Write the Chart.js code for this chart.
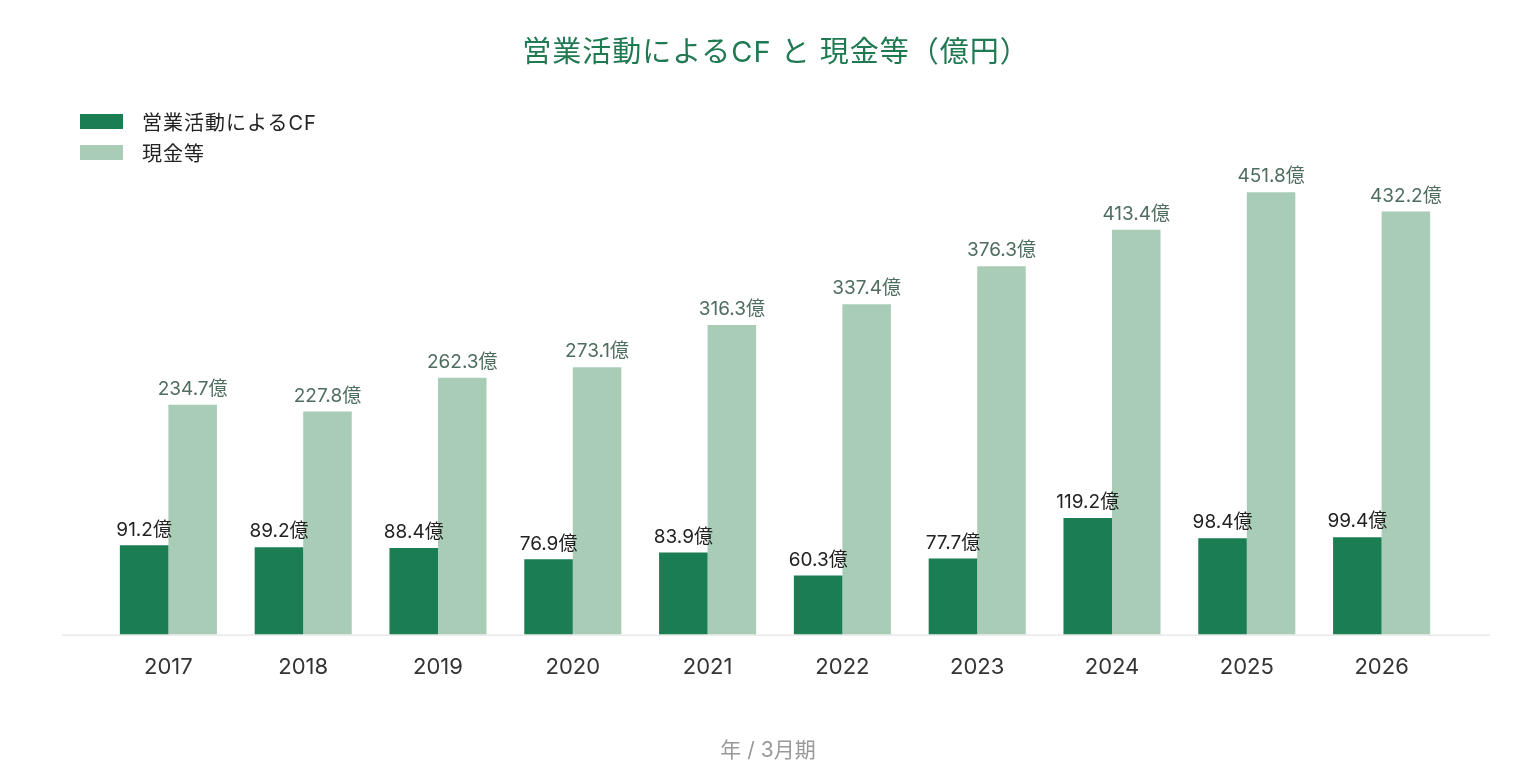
<!DOCTYPE html>
<html>
<head>
<meta charset="utf-8">
<script src="https://cdn.jsdelivr.net/npm/chart.js@4"></script>
<style>
  html, body { margin: 0; padding: 0; background: #fff; }
  #wrap { position: relative; width: 1536px; height: 784px; font-family: Inter, "Noto Sans CJK JP", sans-serif; }
  #title { position: absolute; top: 32px; left: 8px; width: 1536px; text-align: center; font-size: 29px; color: #1f7a52; line-height: 40px; letter-spacing: 1px; }
  #xtitle { position: absolute; top: 736px; left: 0; width: 1536px; text-align: center; font-size: 21px; color: #999; line-height: 28px; }
  #legend { position: absolute; left: 80px; top: 106px; font-size: 20px; color: #222; letter-spacing: 1px; }
  .item { display: flex; align-items: center; height: 31px; }
  .box { width: 43px; height: 15px; margin-right: 19px; }
  canvas { position: absolute; left: 0; top: 0; }
</style>
</head>
<body>
<div id="wrap">
  <canvas id="barChart" width="1536" height="784"></canvas>
  <div id="title">営業活動によるCF と 現金等（億円）</div>
  <div id="legend"></div>
  <div id="xtitle">年 / 3月期</div>
</div>
<script>
// data
const years = ["2017", "2018", "2019", "2020", "2021", "2022", "2023", "2024", "2025", "2026"];
const operatingCF = [91.2, 89.2, 88.4, 76.9, 83.9, 60.3, 77.7, 119.2, 98.4, 99.4];
const cashEtc = [234.7, 227.8, 262.3, 273.1, 316.3, 337.4, 376.3, 413.4, 451.8, 432.2];

const darkGreen = "#1b7d52";
const lightGreen = "#a9ccb7";
const fontFamily = 'Inter, "Noto Sans CJK JP"';

// value labels above each bar
const valueLabels = {
    id: "valueLabels",
    afterDatasetsDraw(chart) {
        const ctx = chart.ctx;
        ctx.save();
        ctx.font = "19px " + fontFamily;
        ctx.textAlign = "center";
        ctx.textBaseline = "bottom";
        chart.data.datasets.forEach(function (ds, i) {
            ctx.fillStyle = ds.labelColor;
            chart.getDatasetMeta(i).data.forEach(function (bar, j) {
                ctx.fillText(ds.data[j].toFixed(1) + "億", bar.x, bar.y - 6);
            });
        });
        ctx.restore();
    }
};

// baseline under the bars, wider than the bar area
const baseLine = {
    id: "baseLine",
    beforeDatasetsDraw(chart) {
        const ctx = chart.ctx;
        const y = chart.scales.y.getPixelForValue(0);
        ctx.save();
        ctx.strokeStyle = "#dddddd";
        ctx.lineWidth = 1;
        ctx.beginPath();
        ctx.moveTo(62, y + 0.5);
        ctx.lineTo(1490, y + 0.5);
        ctx.stroke();
        ctx.restore();
    }
};

var ctxBar = document.getElementById("barChart").getContext("2d");
var barChart = new Chart(ctxBar, {
    type: "bar",
    data: {
        labels: years,
        datasets: [
            {
                label: "営業活動によるCF",
                data: operatingCF,
                backgroundColor: darkGreen,
                labelColor: "#222222",
            },
            {
                label: "現金等",
                data: cashEtc,
                backgroundColor: lightGreen,
                labelColor: "#4e6d5e",
            },
        ],
    },
    options: {
        responsive: false,
        animation: false,
        layout: { padding: { left: 101, right: 87, top: 145, bottom: 83 } },
        datasets: { bar: { categoryPercentage: 0.72, barPercentage: 1 } },
        plugins: {
            legend: { display: false },
            title: { display: false },
            tooltip: { enabled: false },
        },
        scales: {
            x: {
                grid: { display: false, drawTicks: false },
                border: { display: false },
                ticks: { color: "#333", font: { size: 22, family: fontFamily }, padding: 20 },
            },
            y: {
                display: false,
                min: 0,
                max: 500,
            },
        },
    },
    plugins: [valueLabels, baseLine],
});

// legend stacked vertically
var legend = document.getElementById("legend");
barChart.data.datasets.forEach(function (ds) {
    var row = document.createElement("div");
    row.className = "item";
    var box = document.createElement("span");
    box.className = "box";
    box.style.background = ds.backgroundColor;
    row.appendChild(box);
    row.appendChild(document.createTextNode(ds.label));
    legend.appendChild(row);
});
</script>
</body>
</html>
